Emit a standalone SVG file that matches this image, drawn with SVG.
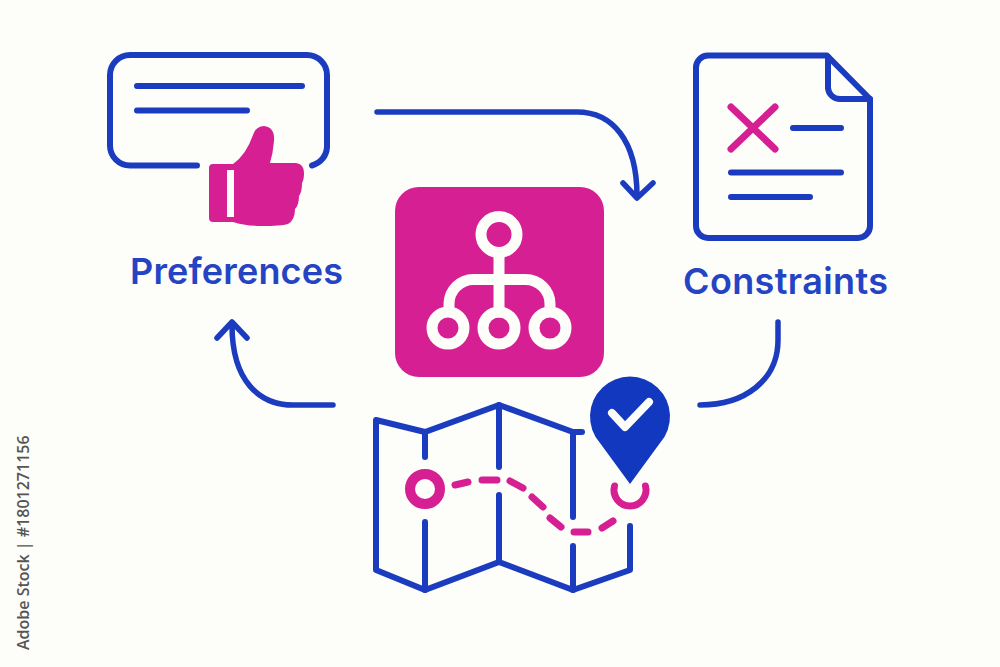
<svg xmlns="http://www.w3.org/2000/svg" width="1000" height="667" viewBox="0 0 1000 667">
<style>
.b{fill:none;stroke:#1c3cc0;stroke-width:6;stroke-linecap:round;stroke-linejoin:round}
.m{fill:none;stroke:#d61f93;stroke-width:7;stroke-linecap:round;stroke-linejoin:round}
.w{fill:none;stroke:#fdfdf9;stroke-width:11;stroke-linecap:round;stroke-linejoin:round}
.c{fill:none;stroke:#1c3cc0;stroke-width:5.500;stroke-linecap:round;stroke-linejoin:round}
.t{font-family:"Inter","Liberation Sans",sans-serif;font-weight:600;font-size:36px;fill:#2444c4}
.s{font-family:"Open Sans","Liberation Sans",sans-serif;font-weight:600;font-size:16px;fill:#555}
</style>
<rect width="1000" height="667" fill="#fdfdf9"/>
<g id="connectors">
<path class="c" d="M377 112H577C612 112 637 140 637 196M623 183L637 198L653 183"/>
<path class="c" d="M778 322V340C778 380 745 405 700 405"/>
<path class="c" d="M333 405H293C260 405 232 382 232 325M217 338L232 322L247 338"/>
</g>
<g id="preferences">
<path class="b" d="M197 165.500H130a20 20 0 0 1-20-20V75a20 20 0 0 1 20-20H307a20 20 0 0 1 20 20V147a20 20 0 0 1-15 18.500"/>
<path class="b" d="M137 86H302M137 110.500H247"/>
<path fill="#d61f93" fill-rule="evenodd" d="M213 164H233Q246 155 253 135Q256 126 264 126Q275 127 274 141Q273 153 270 163H296Q304 164 304 173Q304 180 302 183Q302 192 299 196Q299 205 295 209Q295 220 288 224Q280 226 262 226Q245 226 233 222H213Q209 222 209 218V168Q209 164 213 164ZM227 170V217H234V170Z"/>
<text class="t" x="130" y="284" textLength="213">Preferences</text>
</g>
<g id="constraints">
<path class="b" d="M708 55.500H827L870 99V226a12 12 0 0 1-12 12H708a12 12 0 0 1-12-12V67.500a12 12 0 0 1 12-12Z"/>
<path class="b" d="M828 57V88a12 12 0 0 0 12 11H870"/>
<path class="m" d="M731 107L775 149M775 107L731 149"/>
<path class="b" d="M793 128H841M731 172.500H841M731 197H810"/>
<text class="t" x="683" y="294" textLength="205">Constraints</text>
</g>
<g id="hub">
<rect x="395" y="187" width="209" height="190" rx="24" fill="#d61f93"/>
<circle class="w" cx="499" cy="234.500" r="18"/>
<circle class="w" cx="448" cy="328" r="16"/>
<circle class="w" cx="499" cy="328" r="16"/>
<circle class="w" cx="550" cy="328" r="16"/>
<path class="w" d="M499 253V312M449 310V304a24.500 24.500 0 0 1 24.500-24.500H525.500a24.500 24.500 0 0 1 24.500 24.500V310"/>
</g>
<g id="map">
<path class="b" d="M582 432H573L499 405L425 432L376 420V570L425 590L499 562L573 590L630 570V526"/>
<path class="b" d="M425 432V457M425 522V590M499 405V467M499 495V562M573 432V517M573 546V590"/>
<circle cx="425" cy="489" r="15" fill="none" stroke="#d61f93" stroke-width="10"/>
<path class="m" d="M455 485L468 482M482 480H497M510 481L523 488M532 497L543 507M550 518L561 527M574 532H588M602 528L613 521"/>
<path class="m" d="M614.500 486A16 16 0 1 0 645.500 486"/>
<path fill="#1338c0" d="M630 484L600 443A40 40 0 1 1 660 443Z"/>
<path d="M612 413L625 427L649 402" fill="none" stroke="#fdfdf9" stroke-width="8" stroke-linecap="round" stroke-linejoin="round"/>
</g>
<text class="s" transform="translate(29 650) rotate(-90)">Adobe Stock | #1801271156</text>
</svg>
